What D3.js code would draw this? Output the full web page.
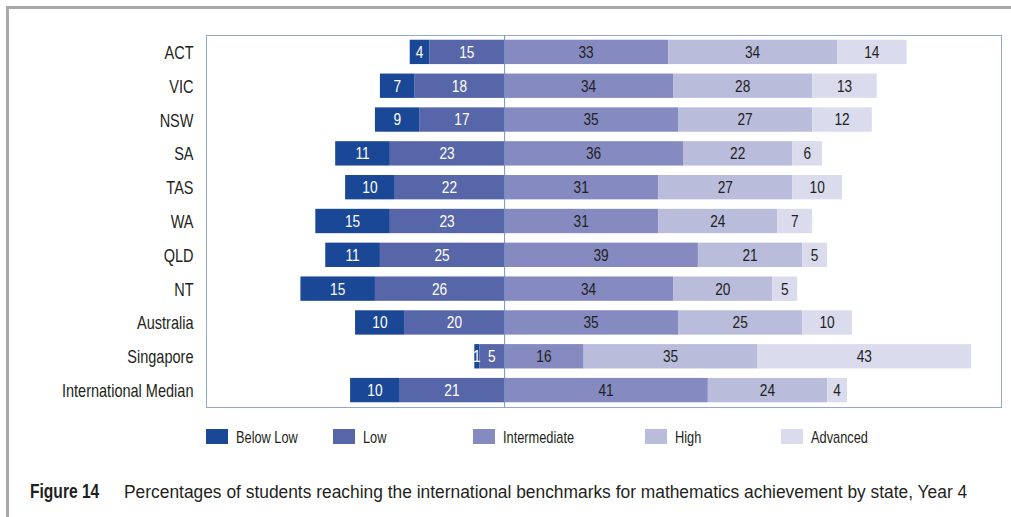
<!DOCTYPE html>
<html>
<head>
<meta charset="utf-8">
<script src="https://cdn.jsdelivr.net/npm/d3@7"></script>
<style>
  html, body { margin: 0; padding: 0; background: #fff; }
  svg { display: block; }
  text { font-family: "Liberation Sans", Arial, sans-serif; }
</style>
</head>
<body>
<svg id="chart" width="1011" height="517"></svg>
<script>
// Jurisdictions, top to bottom
const categories = ["ACT", "VIC", "NSW", "SA", "TAS", "WA", "QLD", "NT", "Australia", "Singapore", "International Median"];
// Percentages of students in each benchmark band
const belowLow     = [4, 7, 9, 11, 10, 15, 11, 15, 10, 1, 10];
const low          = [15, 18, 17, 23, 22, 23, 25, 26, 20, 5, 21];
const intermediate = [33, 34, 35, 36, 31, 31, 39, 34, 35, 16, 41];
const high         = [34, 28, 27, 22, 27, 24, 21, 20, 25, 35, 24];
const advanced     = [14, 13, 12, 6, 10, 7, 5, 5, 10, 43, 4];
const seriesNames  = ["Below Low", "Low", "Intermediate", "High", "Advanced"];
const seriesColors = ["#1b4896", "#5766a9", "#858ac1", "#babcdc", "#dadbed"];
const labelColors  = ["#ffffff", "#ffffff", "#231f20", "#231f20", "#231f20"];

// horizontal squeeze giving the narrow typeface look
const NARROW = 0.83;

const svg = d3.select("#chart");

// outer page frame
svg.append("line").attr("x1", 6).attr("x2", 1011).attr("y1", 7.5).attr("y2", 7.5)
  .attr("stroke", "#a7a9ac").attr("stroke-width", 3);
svg.append("line").attr("x1", 7.5).attr("x2", 7.5).attr("y1", 6).attr("y2", 517)
  .attr("stroke", "#a7a9ac").attr("stroke-width", 3);

const plot = { left: 206, right: 1001, top: 35, bottom: 407 };

const x = d3.scaleLinear().domain([-60, 100]).range([plot.left, plot.right]);
const y = d3.scaleBand().domain(categories).range([plot.top, plot.bottom]).paddingInner(0.28).paddingOuter(0.14);

// plot frame
svg.append("rect")
  .attr("x", plot.left + 0.5).attr("y", plot.top + 0.5)
  .attr("width", plot.right - plot.left).attr("height", plot.bottom - plot.top)
  .attr("fill", "none").attr("stroke", "#90a9d3").attr("stroke-width", 1);

// build segments: negative side for Below Low / Low, positive side for the rest
const segs = [];
categories.forEach((c, i) => {
  const vals = [belowLow[i], low[i], intermediate[i], high[i], advanced[i]];
  const lowStart = -vals[1];
  const blStart = lowStart - vals[0];
  segs.push({ cat: c, s: 0, v: vals[0], x0: blStart, x1: lowStart });
  segs.push({ cat: c, s: 1, v: vals[1], x0: lowStart, x1: 0 });
  let acc = 0;
  for (let k = 2; k < 5; k++) {
    segs.push({ cat: c, s: k, v: vals[k], x0: acc, x1: acc + vals[k] });
    acc += vals[k];
  }
});

const g = svg.append("g");
g.selectAll("rect.seg").data(segs).join("rect")
  .attr("class", "seg")
  .attr("x", d => x(d.x0))
  .attr("y", d => y(d.cat))
  .attr("width", d => x(d.x1) - x(d.x0))
  .attr("height", y.bandwidth())
  .attr("fill", d => seriesColors[d.s]);

g.selectAll("text.val").data(segs).join("text")
  .attr("class", "val")
  .attr("transform", d => `translate(${(x(d.x0) + x(d.x1)) / 2},${y(d.cat) + y.bandwidth() / 2}) scale(${NARROW},1)`)
  .attr("dy", "0.36em")
  .attr("text-anchor", "middle")
  .attr("font-size", 16.5)
  .attr("fill", d => labelColors[d.s])
  .text(d => d.v);

// zero line
svg.append("line")
  .attr("x1", x(0) + 0.5).attr("x2", x(0) + 0.5)
  .attr("y1", plot.top).attr("y2", plot.bottom)
  .attr("stroke", "#6f8fc6").attr("stroke-width", 1);

// category axis
const pad = 12.5;
const yAxis = d3.axisLeft(y).tickSize(0).tickPadding(pad);
const ya = svg.append("g").attr("transform", `translate(${plot.left},0)`).call(yAxis);
ya.select(".domain").remove();
ya.selectAll("text")
  .attr("font-size", 17.5)
  .attr("font-family", "\"Liberation Sans\", Arial, sans-serif")
  .attr("fill", "#231f20")
  .attr("x", -pad / NARROW)
  .attr("dy", "0.40em")
  .attr("transform", `scale(${NARROW},1)`);

// legend
const legendX = [206, 333, 473, 645, 781];
const leg = svg.append("g");
seriesNames.forEach((n, i) => {
  leg.append("rect").attr("x", legendX[i]).attr("y", 429).attr("width", 22).attr("height", 15)
    .attr("fill", seriesColors[i]);
  leg.append("text")
    .attr("transform", `translate(${legendX[i] + 30},443) scale(0.8,1)`)
    .attr("font-size", 16).attr("fill", "#231f20").text(n);
});

// caption: figure number in bold, then the title squeezed to fit the line
svg.append("text")
  .attr("transform", `translate(30,498) scale(0.8,1)`)
  .attr("font-weight", "bold").attr("font-size", 19.5).attr("fill", "#231f20")
  .text("Figure 14");
const title = svg.append("text")
  .attr("font-size", 18.5).attr("fill", "#231f20")
  .text("Percentages of students reaching the international benchmarks for mathematics achievement by state, Year 4");
const titleWidth = 844;
const natural = title.node().getComputedTextLength();
title.attr("transform", `translate(124,498) scale(${titleWidth / natural},1)`);
</script>
</body>
</html>
